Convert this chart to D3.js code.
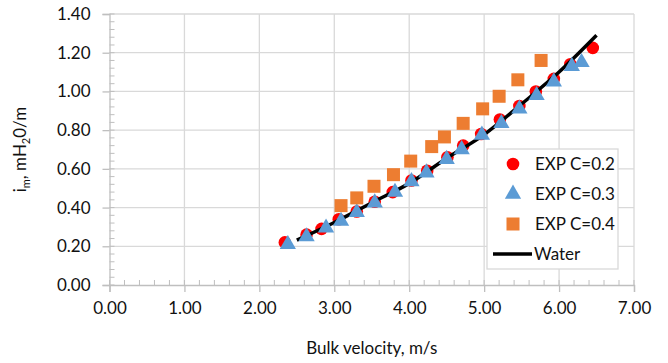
<!DOCTYPE html>
<html lang="en">
<head>
<meta charset="utf-8">
<script src="https://cdn.jsdelivr.net/npm/d3@7/dist/d3.min.js"></script>
<style>
	body { margin: 0; background: #fff; }
	svg { font-family: Lato, "Open Sans", sans-serif; }
	.tick text { fill: #111; font-size: 17px; }
</style>
</head>
<body>
<svg id="chart" width="668" height="363"></svg>
<script>
	// EXP C=0.2
	var velC2 = [2.34, 2.63, 2.83, 3.06, 3.30, 3.54, 3.78, 4.03, 4.24, 4.51, 4.72, 4.96, 5.21, 5.47, 5.69, 5.93, 6.15, 6.45];
	var imC2  = [0.22, 0.26, 0.29, 0.34, 0.38, 0.43, 0.48, 0.54, 0.59, 0.66, 0.72, 0.78, 0.855, 0.925, 1.00, 1.065, 1.14, 1.225];
	// EXP C=0.3
	var velC3 = [2.38, 2.63, 2.89, 3.09, 3.30, 3.54, 3.81, 4.03, 4.23, 4.50, 4.70, 4.97, 5.23, 5.47, 5.70, 5.93, 6.17, 6.30];
	var imC3  = [0.21, 0.25, 0.295, 0.33, 0.375, 0.425, 0.48, 0.535, 0.58, 0.65, 0.70, 0.775, 0.835, 0.91, 0.98, 1.05, 1.13, 1.15];
	// EXP C=0.4
	var velC4 = [3.09, 3.30, 3.53, 3.79, 4.02, 4.30, 4.47, 4.72, 4.98, 5.20, 5.45, 5.76];
	var imC4  = [0.41, 0.45, 0.51, 0.57, 0.64, 0.715, 0.765, 0.835, 0.91, 0.975, 1.06, 1.16];
	// Water
	var velW = [2.5, 3.0, 3.5, 4.0, 4.5, 5.0, 5.5, 6.0, 6.5];
	var imW  = [0.232, 0.323, 0.425, 0.525, 0.655, 0.777, 0.935, 1.10, 1.29];

	var xTicks = [0, 1, 2, 3, 4, 5, 6, 7];
	var yTicks = [0, 0.2, 0.4, 0.6, 0.8, 1.0, 1.2, 1.4];
	var seriesNames = ["EXP C=0.2", "EXP C=0.3", "EXP C=0.4", "Water"];

	var svg = d3.select("#chart");
	var x = d3.scaleLinear().domain([0, 7]).range([109.5, 634]);
	var y = d3.scaleLinear().domain([0, 1.4]).range([285, 14]);

	var axisCol = "#bfbfbf", gridCol = "#d9d9d9", textCol = "#111";

	// gridlines
	svg.append("g").selectAll("line.gx")
		.data(xTicks.slice(1)).enter().append("line")
		.attr("x1", function(d){ return x(d) }).attr("x2", function(d){ return x(d) })
		.attr("y1", y(0)).attr("y2", y(1.4))
		.attr("stroke", gridCol).attr("stroke-width", 1.3);
	svg.append("g").selectAll("line.gy")
		.data(yTicks.slice(1)).enter().append("line")
		.attr("x1", x(0)).attr("x2", x(7))
		.attr("y1", function(d){ return y(d) }).attr("y2", function(d){ return y(d) })
		.attr("stroke", gridCol).attr("stroke-width", 1.3);

	// minor ticks (inside)
	var xMinor = d3.range(0, 7.001, 0.2);
	svg.append("g").selectAll("line")
		.data(xMinor).enter().append("line")
		.attr("x1", function(d){ return x(d) }).attr("x2", function(d){ return x(d) })
		.attr("y1", y(0)).attr("y2", y(0) - 5)
		.attr("stroke", axisCol);
	var yMinor = d3.range(0, 1.4001, 0.04);
	svg.append("g").selectAll("line")
		.data(yMinor).enter().append("line")
		.attr("x1", x(0)).attr("x2", x(0) + 5)
		.attr("y1", function(d){ return y(d) }).attr("y2", function(d){ return y(d) })
		.attr("stroke", axisCol);

	// axes
	var xAxis = svg.append("g")
		.attr("transform", "translate(0," + y(0) + ")")
		.call(d3.axisBottom(x).tickValues(xTicks).tickFormat(d3.format(".2f")).tickSize(7).tickPadding(10));
	var yAxis = svg.append("g")
		.attr("transform", "translate(" + x(0) + ",0)")
		.call(d3.axisLeft(y).tickValues(yTicks).tickFormat(d3.format(".2f")).tickSize(7).tickPadding(12));
	[xAxis, yAxis].forEach(function(a) {
		a.select(".domain").attr("stroke", axisCol).attr("stroke-width", 1.3);
		a.selectAll(".tick line").attr("stroke", axisCol).attr("stroke-width", 1.3);
		a.selectAll(".tick text").attr("font-family", "Lato, sans-serif").attr("font-size", 17);
	});

	// axis titles
	svg.append("text")
		.attr("x", (x(0) + x(7)) / 2).attr("y", 354)
		.attr("text-anchor", "middle").attr("font-size", 17).attr("fill", textCol)
		.text("Bulk velocity, m/s");

	var yTitle = svg.append("text")
		.attr("transform", "translate(26," + ((y(0) + y(1.4)) / 2) + ") rotate(-90)")
		.attr("text-anchor", "middle").attr("font-size", 17).attr("fill", textCol);
	yTitle.append("tspan").text("i");
	yTitle.append("tspan").attr("font-size", 11).attr("dy", 4).text("m");
	yTitle.append("tspan").attr("dy", -4).text(", mH");
	yTitle.append("tspan").attr("font-size", 11).attr("dy", 4).text("2");
	yTitle.append("tspan").attr("dy", -4).text("0/m");

	function pts(vx, vy) { return vx.map(function(v, i){ return [v, vy[i]] }) }

	var tri = d3.symbol().type(d3.symbolTriangle).size(115);

	// C=0.2 circles
	svg.append("g").selectAll("circle")
		.data(pts(velC2, imC2)).enter().append("circle")
		.attr("cx", function(d){ return x(d[0]) }).attr("cy", function(d){ return y(d[1]) })
		.attr("r", 6.3).attr("fill", "#ff0000");

	// Water line
	svg.append("path")
		.datum(pts(velW, imW))
		.attr("fill", "none").attr("stroke", "#000").attr("stroke-width", 3.5)
		.attr("d", d3.line().x(function(d){ return x(d[0]) }).y(function(d){ return y(d[1]) }).curve(d3.curveCatmullRom));

	// C=0.3 triangles
	svg.append("g").selectAll("path")
		.data(pts(velC3, imC3)).enter().append("path")
		.attr("d", tri)
		.attr("transform", function(d){ return "translate(" + x(d[0]) + "," + y(d[1]) + ")" })
		.attr("fill", "#5b9bd5");

	// C=0.4 squares
	svg.append("g").selectAll("rect")
		.data(pts(velC4, imC4)).enter().append("rect")
		.attr("x", function(d){ return x(d[0]) - 6.5 }).attr("y", function(d){ return y(d[1]) - 6.5 })
		.attr("width", 13).attr("height", 13).attr("fill", "#ed7d31");

	// legend
	var lg = svg.append("g").attr("transform", "translate(487,149)");
	lg.append("rect").attr("width", 131).attr("height", 120)
		.attr("fill", "#fff").attr("stroke", gridCol).attr("stroke-width", 1.3);
	var rows = lg.selectAll("g.row").data(seriesNames).enter().append("g")
		.attr("transform", function(d, i){ return "translate(0," + (15 + i * 30) + ")" });
	rows.append("text").attr("x", 48).attr("dy", "0.35em")
		.attr("font-size", 17).attr("fill", textCol).text(function(d){ return d });
	rows.each(function(d, i) {
		var r = d3.select(this);
		if (i === 0) r.append("circle").attr("cx", 26).attr("r", 6.3).attr("fill", "#ff0000");
		if (i === 1) r.append("path").attr("d", tri).attr("transform", "translate(26,0)").attr("fill", "#5b9bd5");
		if (i === 2) r.append("rect").attr("x", 19.5).attr("y", -6.5).attr("width", 13).attr("height", 13).attr("fill", "#ed7d31");
		if (i === 3) {
			r.append("line").attr("x1", 6).attr("x2", 45).attr("stroke", "#000").attr("stroke-width", 3.5);
			r.select("text").attr("x", 47);
		}
	});
</script>
</body>
</html>
